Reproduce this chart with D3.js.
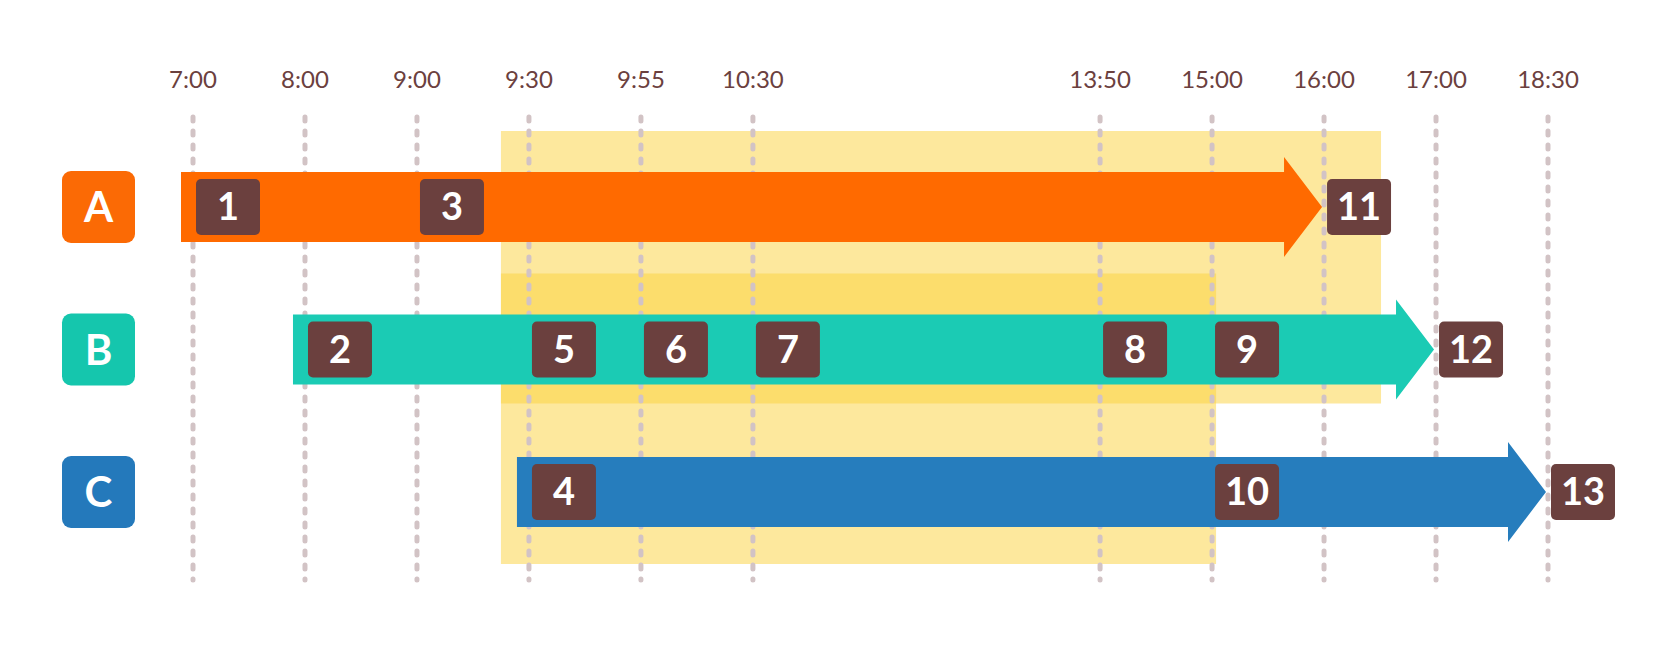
<!DOCTYPE html>
<html><head><meta charset="utf-8">
<script src="https://cdn.jsdelivr.net/npm/d3@7"></script>
<style>body{margin:0;background:#fff}</style>
</head><body><div id="chart"></div>
<script>
var ticks = ["7:00","8:00","9:00","9:30","9:55","10:30","13:50","15:00","16:00","17:00","18:30"];
var slots = [0, 1, 2, 3, 4, 5, 8.1, 9.1, 10.1, 11.1, 12.1];
var rows = ["A", "B", "C"];
var rowColors = ["#fb6a05", "#15c6ad", "#2479bb"];
var barColors = ["#ff6a00", "#1bcbb4", "#267dbd"];
// bar start tick and end tick per row
var barStart = ["7:00", "8:00", "9:30"];
var barEnd = ["16:00", "17:00", "18:30"];
// badges: number, row, tick
var badgeNum = [1, 2, 3, 4, 5, 6, 7, 8, 9, 10, 11, 12, 13];
var badgeRow = ["A","B","A","C","B","B","B","B","B","C","A","B","C"];
var badgeTick = ["7:00","8:00","9:00","9:30","9:30","9:55","10:30","13:50","15:00","15:00","16:00","17:00","18:30"];
// highlight spans: [from tick, to tick, top row, bottom row]
var spans = [["9:30","16:00","A","B"], ["9:30","15:00","B","C"]];

var W = 1677, H = 651;
var svg = d3.select("#chart").append("svg").attr("width", W).attr("height", H);

var slotOf = {};
ticks.forEach(function (t, i) { slotOf[t] = slots[i]; });
var x = d3.scaleLinear().domain([0, 12.1]).range([193, 1548]);
var y = d3.scalePoint().domain(rows).range([207, 492]);
var X = function (t) { return x(slotOf[t]); };

// highlight spans
svg.selectAll("rect.span").data(spans).enter().append("rect")
    .attr("x", function (d) { return X(d[0]) - 28; })
    .attr("y", function (d) { return y(d[2]) - 76; })
    .attr("width", function (d, i) { return X(d[1]) - X(d[0]) + 28 + (i == 0 ? 57 : 4); })
    .attr("height", function (d, i) { return y(d[3]) - y(d[2]) + (i == 0 ? 130 : 148); })
    .style("fill", "#fcd23c").style("opacity", 0.5);

// dotted grid
svg.selectAll("line.grid").data(ticks).enter().append("line")
    .attr("x1", X).attr("x2", X).attr("y1", 117).attr("y2", 580)
    .style("stroke", "#d2c3c5").style("stroke-width", 5)
    .style("stroke-linecap", "round").style("stroke-dasharray", "4,10");

svg.selectAll("text.tick").data(ticks).enter().append("text")
    .attr("x", X).attr("y", 88).attr("text-anchor", "middle")
    .style("font-family", "Lato, sans-serif").style("font-size", "24px")
    .style("fill", "#6b403e").text(function (d) { return d; });

// arrows
var bh = 70, hh = 100, hl = 38;
svg.selectAll("path.bar").data(rows).enter().append("path")
    .attr("d", function (r, i) {
        var x0 = X(barStart[i]) - 12, x1 = X(barEnd[i]) - 2, cy = y(r);
        return "M" + x0 + "," + (cy - bh / 2) + "H" + (x1 - hl) + "V" + (cy - hh / 2) +
            "L" + x1 + "," + cy + "L" + (x1 - hl) + "," + (cy + hh / 2) +
            "V" + (cy + bh / 2) + "H" + x0 + "Z";
    })
    .style("fill", function (r, i) { return barColors[i]; });

// row labels
var lab = svg.selectAll("g.row").data(rows).enter().append("g");
lab.append("rect").attr("x", 62).attr("y", function (r) { return y(r) - 36; })
    .attr("width", 73).attr("height", 72).attr("rx", 9)
    .style("fill", function (r, i) { return rowColors[i]; });
lab.append("text").attr("x", 98.5).attr("y", function (r) { return y(r) + 15; })
    .attr("text-anchor", "middle").style("font-family", "Lato, sans-serif")
    .style("font-weight", "bold").style("font-size", "42px").style("fill", "#fff")
    .text(function (r) { return r; });

// badges
var bg = svg.selectAll("g.badge").data(badgeNum).enter().append("g");
bg.append("rect")
    .attr("x", function (d, i) { return X(badgeTick[i]) + 3; })
    .attr("y", function (d, i) { return y(badgeRow[i]) - 28; })
    .attr("width", 64).attr("height", 56).attr("rx", 5)
    .style("fill", "#6b403e");
bg.append("text")
    .attr("x", function (d, i) { return X(badgeTick[i]) + 35; })
    .attr("y", function (d, i) { return y(badgeRow[i]) + 13; })
    .attr("text-anchor", "middle").style("font-family", "Lato, sans-serif")
    .style("font-weight", "bold").style("font-size", "38px").style("fill", "#fff")
    .text(function (d) { return d; });
</script></body></html>
